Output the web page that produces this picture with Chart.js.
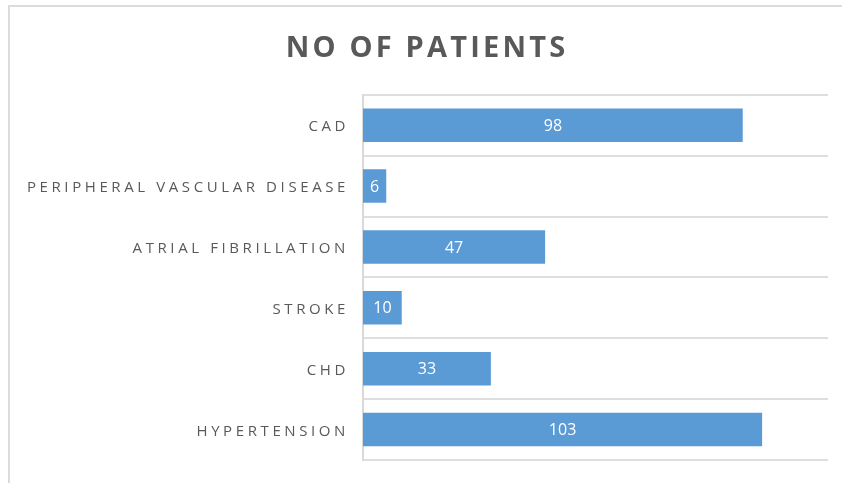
<!DOCTYPE html>
<html>
<head>
<meta charset="utf-8">
<script src="https://cdn.jsdelivr.net/npm/chart.js@4/dist/chart.umd.min.js"></script>
<style>
  html, body { margin: 0; padding: 0; background: #ffffff; }
  #wrap { position: relative; width: 842px; height: 483px; overflow: hidden; }
  #frame { position: absolute; left: 8px; top: 5px; width: 900px; height: 600px;
           border-left: 2px solid #dcdcdc; border-top: 2px solid #dcdcdc; }
  canvas { position: absolute; left: 0; top: 0; }
</style>
</head>
<body>
<div id="wrap">
  <div id="frame"></div>
  <canvas id="c" width="842" height="483"></canvas>
</div>
<script>
const categories = ["CAD", "PERIPHERAL VASCULAR DISEASE", "ATRIAL FIBRILLATION", "STROKE", "CHD", "HYPERTENSION"];
const patients = [98, 6, 47, 10, 33, 103];
const chartTitle = "NO OF PATIENTS";

const spacingPlugin = {
  id: 'spacing',
  afterLayout(chart) {
    const y = chart.scales.y;
    if (y && !y._wrapped) {
      const orig = y.drawLabels.bind(y);
      y.drawLabels = function (area) {
        const ctx = this.ctx;
        const prev = ctx.letterSpacing;
        ctx.letterSpacing = '3.6px';
        orig(area);
        ctx.letterSpacing = prev || '0px';
      };
      y._wrapped = true;
    }
    const t = chart.titleBlock;
    if (t && !t._wrapped) {
      const origT = t.draw.bind(t);
      t.draw = function (area) {
        const ctx = this.ctx;
        ctx.save();
        ctx.translate(13, 0);
        ctx.letterSpacing = '3.2px';
        origT(area);
        ctx.restore();
      };
      t._wrapped = true;
    }
  }
};

const valueLabels = {
  id: 'valueLabels',
  afterDatasetsDraw(chart) {
    const ctx = chart.ctx;
    const meta = chart.getDatasetMeta(0);
    ctx.save();
    ctx.letterSpacing = '0px';
    ctx.fillStyle = '#ffffff';
    ctx.font = '16px "Open Sans", sans-serif';
    ctx.textAlign = 'center';
    ctx.textBaseline = 'middle';
    meta.data.forEach((bar, i) => {
      const p = bar.getProps(['x', 'y', 'base'], true);
      ctx.fillText(String(chart.data.datasets[0].data[i]), (p.x + p.base) / 2, p.y + 1);
    });
    ctx.restore();
  }
};

new Chart(document.getElementById('c'), {
  type: 'bar',
  data: {
    labels: categories,
    datasets: [{
      label: chartTitle,
      data: patients,
      backgroundColor: '#5b9bd5',
      borderWidth: 0,
      categoryPercentage: 1.0,
      barPercentage: 0.55
    }]
  },
  options: {
    indexAxis: 'y',
    responsive: false,
    animation: false,
    layout: { padding: { left: 0, right: 14, top: 0, bottom: 23 } },
    plugins: {
      legend: { display: false },
      tooltip: { enabled: false },
      title: {
        display: true,
        text: chartTitle,
        color: '#595959',
        font: { family: '"Open Sans", sans-serif', size: 29, weight: 'bold' },
        padding: { top: 31, bottom: 29 }
      }
    },
    scales: {
      x: { display: false, min: 0, max: 120 },
      y: {
        afterFit(s) { s.width = 363; },
        grid: { color: '#dedede', lineWidth: 2, drawTicks: false, offset: true },
        border: { color: '#d9d9d9', width: 2 },
        ticks: {
          color: '#595959',
          padding: 14,
          labelOffset: 2,
          font: { family: '"Open Sans", sans-serif', size: 15 }
        }
      }
    }
  },
  plugins: [spacingPlugin, valueLabels]
});
</script>
</body>
</html>
